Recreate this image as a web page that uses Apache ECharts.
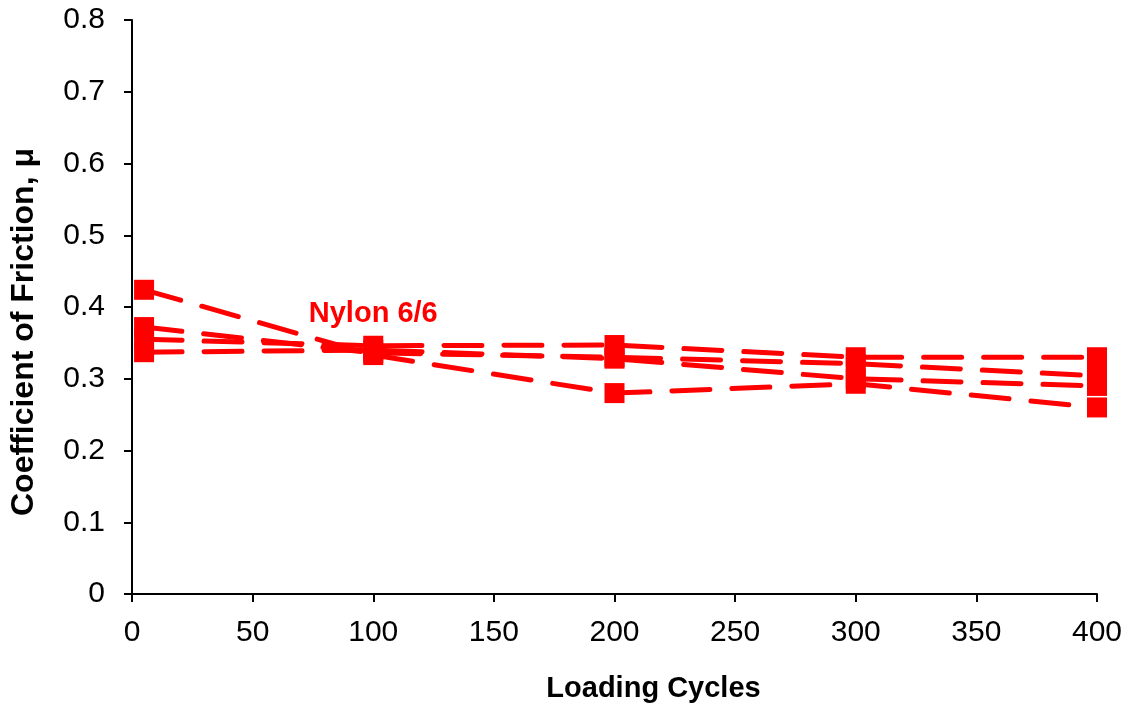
<!DOCTYPE html>
<html>
<head>
<meta charset="utf-8">
<script src="https://cdn.jsdelivr.net/npm/echarts@6/dist/echarts.min.js"></script>
<style>
  html, body { margin: 0; padding: 0; background: #fff; }
  #chart { width: 1128px; height: 710px; }
</style>
</head>
<body>
<div id="chart"></div>
<script>
// Loading cycles at which friction was measured
const cycles = [5, 100, 200, 300, 400];

// Coefficient of friction for four Nylon 6/6 test runs
const run1 = [0.424, 0.333, 0.280, 0.293, 0.260];
const run2 = [0.372, 0.336, 0.330, 0.321, 0.304];
const run3 = [0.355, 0.346, 0.347, 0.330, 0.330];
const run4 = [0.337, 0.340, 0.328, 0.300, 0.290];

// Material label and where it sits in data coordinates
const materialName = 'Nylon 6/6';
const materialLabelAt = [100, 0.390];

const runs = [run1, run2, run3, run4];
const RED = '#ff0000';
const FONT = '"Liberation Sans", Arial, sans-serif';

const lineSeries = runs.map((vals, i) => ({
  name: 'Run ' + (i + 1),
  type: 'line',
  data: cycles.map((c, j) => [c, vals[j]]),
  symbol: 'rect',
  symbolSize: 20,
  itemStyle: { color: RED, opacity: 1 },
  lineStyle: { color: RED, width: 5, type: [38, 22], cap: 'round', opacity: 1 },
  z: 2
}));

const chart = echarts.init(document.getElementById('chart'), null, { renderer: 'canvas' });
chart.setOption({
  backgroundColor: '#ffffff',
  animation: false,
  grid: { left: 131, right: 31, top: 20, bottom: 116, containLabel: false },
  xAxis: {
    type: 'value',
    min: 0, max: 400, interval: 50,
    name: 'Loading Cycles',
    nameLocation: 'middle',
    nameGap: 80,
    nameTextStyle: {
      fontFamily: FONT, fontWeight: 'bold', fontSize: 29, color: '#000',
      padding: [0, 0, 0, 78]
    },
    axisLine: { show: true, onZero: false, lineStyle: { color: '#000', width: 2 } },
    axisTick: { show: true, inside: false, length: 8, lineStyle: { color: '#000', width: 2 } },
    axisLabel: { fontFamily: FONT, fontSize: 30, color: '#000', margin: 24 },
    splitLine: { show: false }
  },
  yAxis: {
    type: 'value',
    min: 0, max: 0.8, interval: 0.1,
    name: 'Coefficient of Friction, μ',
    nameLocation: 'middle',
    nameGap: 92,
    nameRotate: 90,
    nameTextStyle: {
      fontFamily: FONT, fontWeight: 'bold', fontSize: 32, color: '#000',
      padding: [0, 50, 0, 0]
    },
    axisLine: { show: true, lineStyle: { color: '#000', width: 2 } },
    axisTick: { show: true, inside: false, length: 8, lineStyle: { color: '#000', width: 2 } },
    axisLabel: {
      fontFamily: FONT, fontSize: 30, color: '#000', margin: 27,
      formatter: v => (v === 0 ? '0' : v.toFixed(1))
    },
    splitLine: { show: false }
  },
  series: lineSeries.concat([{
    name: 'label',
    type: 'scatter',
    data: [materialLabelAt],
    symbolSize: 0,
    silent: true,
    itemStyle: { opacity: 1 },
    label: {
      show: true,
      position: 'inside',
      formatter: materialName,
      fontFamily: FONT, fontWeight: 'bold', fontSize: 29, color: RED,
      opacity: 1, textBorderWidth: 0
    },
    z: 3
  }])
});
</script>
</body>
</html>
